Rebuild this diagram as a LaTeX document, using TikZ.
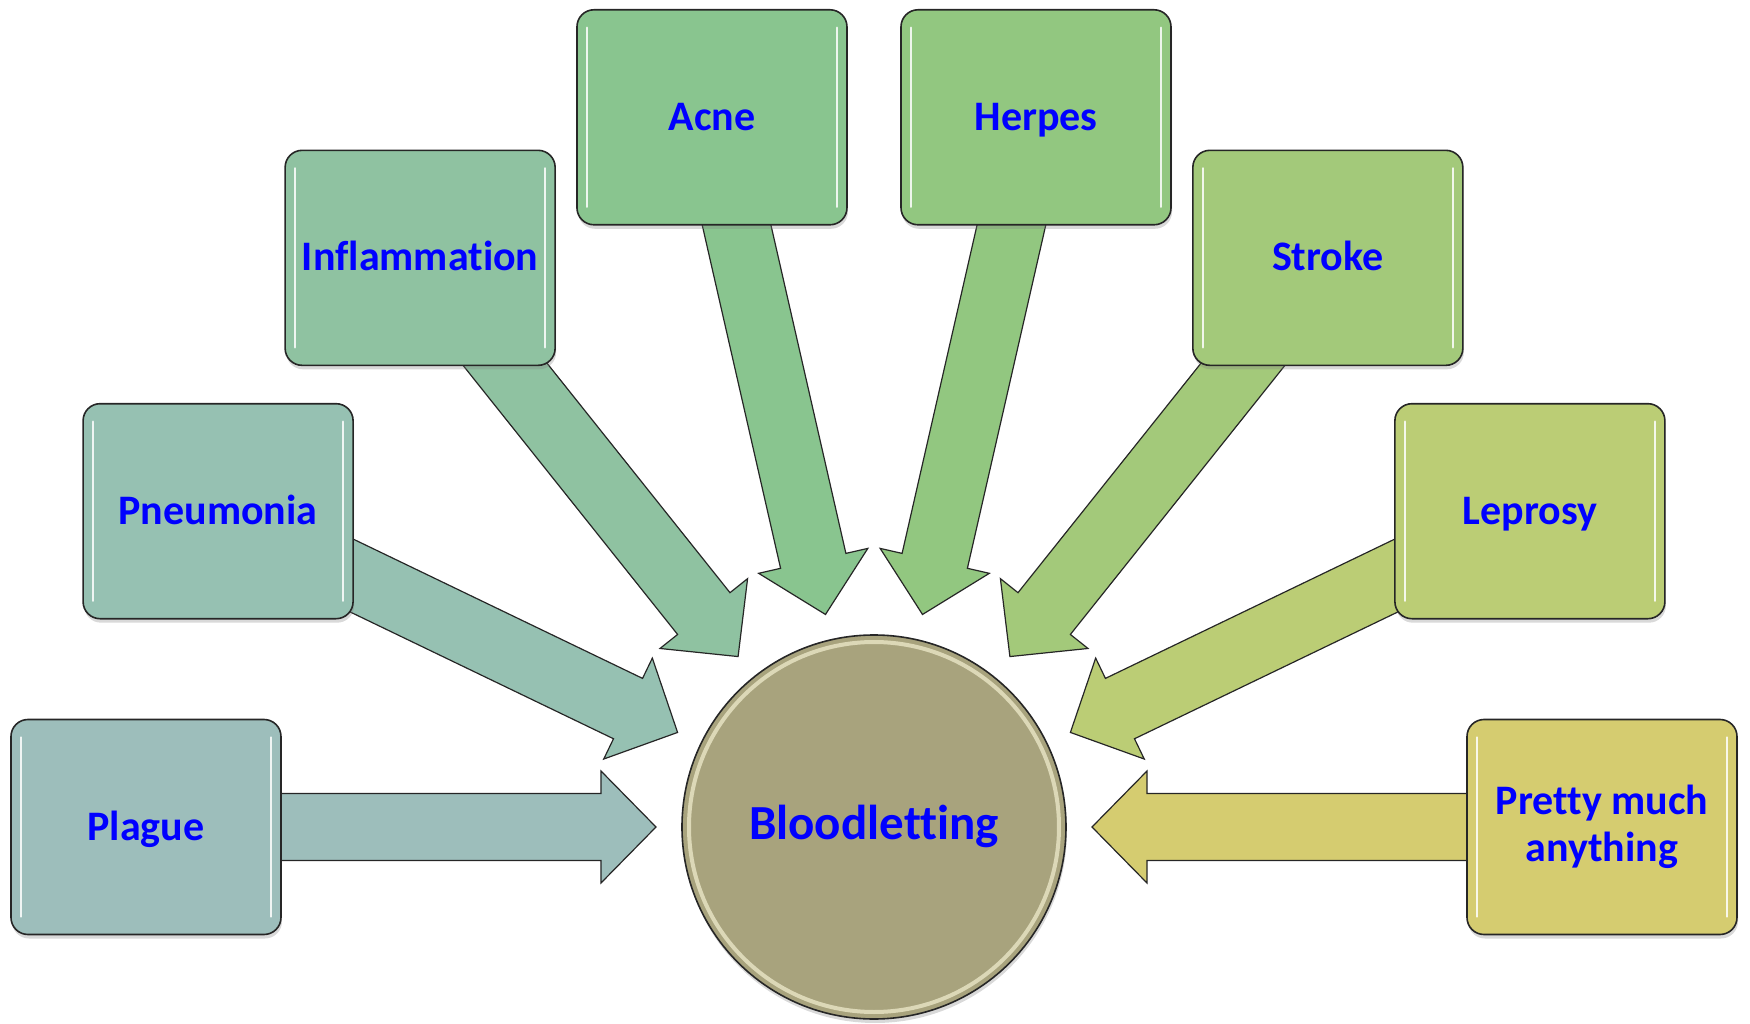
\documentclass[tikz,border=0pt]{standalone}
\usepackage{fontspec}
\setmainfont[Ligatures=NoCommon]{Carlito}
\usepackage{tikz}
\usetikzlibrary{calc,shadows,backgrounds}

\definecolor{plaguecol}{RGB}{157,190,187}
\definecolor{pneumcol}{RGB}{150,193,178}
\definecolor{inflamcol}{RGB}{143,194,161}
\definecolor{acnecol}{RGB}{137,197,143}
\definecolor{herpescol}{RGB}{146,199,128}
\definecolor{strokecol}{RGB}{163,201,122}
\definecolor{leprosycol}{RGB}{187,205,117}
\definecolor{prettycol}{RGB}{213,204,112}
\definecolor{bloodcol}{RGB}{168,163,125}
\definecolor{ringcol}{RGB}{226,222,190}

\begin{document}
\begin{tikzpicture}[x=1pt,y=1pt]
  \tikzstyle{disease}=[rectangle,rounded corners=8.5pt,draw=black!85,line width=0.8pt,
  			  minimum width=135pt,minimum height=107.5pt,inner sep=2pt,
  			  font=\bfseries\fontsize{21}{23.5}\selectfont,text=blue,align=center,
  			  drop shadow={shadow xshift=0.5pt,shadow yshift=-2pt,opacity=.3},
  			  path picture={
  			    \draw[white,line width=1.3pt,opacity=.85,line cap=round]
  			      ([xshift=5pt,yshift=-9pt]path picture bounding box.north west)
  			      -- ([xshift=5pt,yshift=9pt]path picture bounding box.south west);
  			    \draw[white,line width=1.3pt,opacity=.85,line cap=round]
  			      ([xshift=-5pt,yshift=-9pt]path picture bounding box.north east)
  			      -- ([xshift=-5pt,yshift=9pt]path picture bounding box.south east);}]
  \tikzstyle{one line}=[text height=14pt,text depth=1pt]
  \tikzstyle{cure}=[circle,draw=black!85,line width=0.8pt,fill=bloodcol,
  			  minimum size=192pt,inner sep=0pt,
  			  font=\bfseries\fontsize{24.5}{28}\selectfont,text=blue,
  			  drop shadow={shadow xshift=0.5pt,shadow yshift=-2pt,opacity=.3},
  			  path picture={
  			    \draw[ringcol,line width=2pt,opacity=.9]
  			      (path picture bounding box.center) circle (92.5pt);}]
  \tikzstyle{blockarrow}=[draw=black!85,line width=0.6pt,line join=miter]
  \useasboundingbox (-437pt,-98pt) rectangle (438pt,413.5pt);
  % centre
  \node [cure,text height=16pt,text depth=4pt] (blood) at (0,0) {Bloodletting};
  % fan of boxes
  \node [disease,one line,fill=plaguecol]  (plague)  at (180:364pt)    {Plague};
  \node [disease,one line,fill=pneumcol]   (pneum)   at (154.29:364pt) {Pneumonia};
  \node [disease,one line,fill=inflamcol]  (inflam)  at (128.57:364pt) {Inflammation};
  \node [disease,one line,fill=acnecol]    (acne)    at (102.86:364pt) {Acne};
  \node [disease,one line,fill=herpescol]  (herpes)  at (77.14:364pt)  {Herpes};
  \node [disease,one line,fill=strokecol]  (stroke)  at (51.43:364pt)  {Stroke};
  \node [disease,one line,fill=leprosycol] (leprosy) at (25.71:364pt)  {Leprosy};
  \node [disease,fill=prettycol]  (pretty)  at (0:364pt)      {Pretty much\\anything};
  % block arrows behind the boxes
  \begin{scope}[on background layer]
    \foreach \dis/\col in {plague/plaguecol,pneum/pneumcol,inflam/inflamcol,
        acne/acnecol,herpes/herpescol,stroke/strokecol,leprosy/leprosycol,
        pretty/prettycol}{
      \coordinate (tip) at ($(blood.center)!109pt!(\dis.center)$);
      \coordinate (hd)  at ($(blood.center)!136.5pt!(\dis.center)$);
      \filldraw [blockarrow,fill=\col] (tip)
        -- ($(hd)!28pt!90:(\dis.center)$)
        -- ($(hd)!16.75pt!90:(\dis.center)$)
        -- ($(\dis.center)!16.75pt!-90:(hd)$)
        -- ($(\dis.center)!16.75pt!90:(hd)$)
        -- ($(hd)!16.75pt!-90:(\dis.center)$)
        -- ($(hd)!28pt!-90:(\dis.center)$)
        -- cycle;
    }
  \end{scope}
\end{tikzpicture}
\end{document}
